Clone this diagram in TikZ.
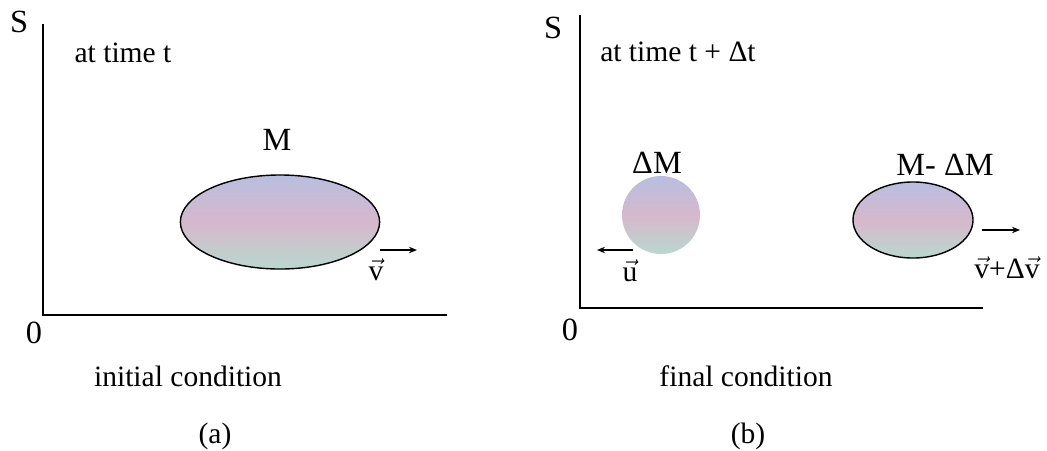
\documentclass[tikz,border=0pt]{standalone}
\usepackage{amsmath}
\usepackage{fontspec}
\setmainfont{Liberation Serif}
\usetikzlibrary{arrows.meta,shapes.geometric}
\definecolor{Lav}{HTML}{B9BEE0}
\definecolor{Rose}{HTML}{D6B8CC}
\definecolor{Mint}{HTML}{B8D8CE}
\newcommand{\vv}{\ensuremath{\vec{\text{v}}}}

\begin{document}
\begin{tikzpicture}[x=0.025cm,y=-0.025cm,
  axis/.style={line width=1.1pt},
  body/.style={ellipse,draw=black,line width=1pt,top color=Lav,bottom color=Mint,middle color=Rose,inner sep=0pt},
  drop/.style={circle,inner sep=0pt,minimum size=1.95cm,top color=Lav,bottom color=Mint,middle color=Rose},
  lbl/.style={font=\fontsize{21}{24}\selectfont,inner sep=0pt},
  big/.style={font=\fontsize{23}{26}\selectfont,inner sep=0pt},
  arrow/.style={-{Stealth[length=2mm,width=1.6mm]},line width=0.9pt}
]
\useasboundingbox (0,0) rectangle (1047,450);
% (a) initial condition
\coordinate (oa) at (43,315);
\coordinate (ya) at (43,24);
\coordinate (xa) at (447,315);
\draw[axis] (ya) -- (oa) -- (xa);
\node[big] (sa) at (19,22) {S};
\node[big] (za) at (34,333) {0};
\node[lbl] (ta) at (123,53) {at time t};
\node[big] (ma) at (277,140) {M};
\node[body,minimum width=4.98cm,minimum height=2.35cm] (mass) at (280,222) {};
\coordinate (va) at (380,250);
\coordinate (vb) at (417,250);
\draw[arrow] (va) -- (vb);
\node[lbl] (vel) at (376,270) {\vv};
\node[lbl] (capa) at (188,376) {initial condition};
\node[lbl] (suba) at (215,436) {(a)};
% (b) final condition
\coordinate (ob) at (580,308);
\coordinate (yb) at (580,15);
\coordinate (xb) at (983,308);
\draw[axis] (yb) -- (ob) -- (xb);
\node[big] (sb) at (553,28) {S};
\node[big] (zb) at (570,330) {0};
\node[lbl,anchor=west] (tb) at (600,52) {at time t + Δt};
\node[big] (dm) at (657,163) {ΔM};
\node[drop] (lump) at (661,215) {};
\coordinate (ua) at (633,250);
\coordinate (ub) at (597,250);
\draw[arrow] (ua) -- (ub);
\node[lbl] (uvel) at (630,271) {\(\vec{\text{u}}\)};
\node[big] (rest) at (945,165) {M- ΔM};
\node[body,minimum width=3cm,minimum height=1.9cm] (rem) at (913,220) {};
\coordinate (wa) at (982,230);
\coordinate (wb) at (1020,230);
\draw[arrow] (wa) -- (wb);
\node[lbl] (wvel) at (1007,268) {\vv+Δ\vv};
\node[lbl] (capb) at (746,376) {final condition};
\node[lbl] (subb) at (748,436) {(b)};
\end{tikzpicture}
\end{document}
